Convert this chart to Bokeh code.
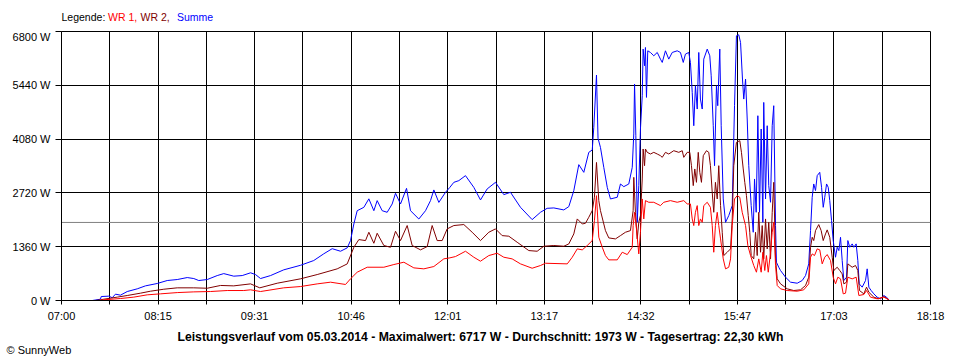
from bokeh.plotting import figure
from bokeh.layouts import column
from bokeh.models import (FixedTicker, CustomJSTickFormatter, PrintfTickFormatter,
                          Span, Range1d)
from bokeh.core.properties import value
from bokeh.embed import file_html
from bokeh.resources import INLINE

# ---------------- data (time in minutes since midnight, power in W) ----------------
day_start = 420.0          # 07:00
day_end = 1098.0           # 18:18
x_tick_labels = ["07:00", "08:15", "09:31", "10:46", "12:01",
                 "13:17", "14:32", "15:47", "17:03", "18:18"]
y_tick_values = [0, 1360, 2720, 4080, 5440, 6800]
avg_w = 1973

legend_parts = ["Legende:", "WR 1,", "WR 2,", "Summe"]
title_text = ("Leistungsverlauf vom 05.03.2014 - Maximalwert: 6717 W - "
              "Durchschnitt: 1973 W - Tagesertrag: 22,30 kWh")
copyright_text = "\u00a9 SunnyWeb"

t_sum = [444.0, 450.4, 451.0, 456.9, 459.6, 462.1, 466.0, 471.3, 479.1, 485.5,
         494.7, 502.5, 510.3, 518.1, 523.2, 527.1, 533.7, 541.5, 546.6, 554.4,
         561.0, 567.5, 571.4, 575.3, 583.1, 593.4, 606.5, 616.8, 624.6, 631.2,
         637.7, 642.9, 645.5, 648.1, 650.7, 655.9, 659.8, 663.7, 666.3, 670.2,
         674.1, 678.0, 680.6, 684.5, 689.2, 692.3, 698.8, 704.0, 707.9, 710.5,
         714.4, 719.6, 723.0, 726.1, 730.0, 735.2, 741.7, 746.9, 752.1, 758.6,
         765.1, 770.3, 778.1, 787.2, 793.7, 798.9, 804.1, 811.9, 815.8, 819.7,
         823.6, 827.5, 831.4, 834.1, 835.3, 837.4, 838.6, 840.5, 843.1, 845.8,
         848.3, 853.6, 856.1, 858.7, 862.6, 865.3, 866.5, 867.1, 868.1, 869.2,
         870.4, 871.7, 873.1, 873.8, 874.9, 875.6, 876.4, 877.4, 879.5, 882.1,
         884.8, 887.3, 888.7, 891.2, 893.8, 896.5, 900.4, 902.9, 905.1, 906.8,
         909.4, 910.7, 912.1, 913.3, 914.6, 916.0, 917.2, 918.5, 919.9, 921.1,
         923.8, 925.8, 926.9, 928.5, 929.5, 931.0, 932.0, 933.6, 934.7, 936.3,
         938.1, 940.6, 943.3, 945.1, 946.6, 948.4, 949.8, 951.3, 952.3, 953.7,
         955.0, 956.2, 958.1, 959.7, 960.7, 962.0, 963.3, 964.6, 965.9, 967.2,
         967.9, 969.3, 970.6, 971.8, 973.2, 974.5, 975.7, 977.1, 977.8, 979.6,
         981.0, 984.9, 988.8, 994.0, 997.9, 1000.5, 1003.0, 1004.4, 1005.7, 1006.9,
         1008.3, 1009.6, 1011.6, 1013.0, 1014.3, 1015.5, 1016.9, 1018.2, 1019.4, 1020.8,
         1022.1, 1023.9, 1025.2, 1026.5, 1027.8, 1029.1, 1030.4, 1032.5, 1033.5, 1035.0,
         1036.9, 1038.2, 1040.0, 1041.3, 1042.4, 1044.7, 1047.3, 1048.6, 1049.9, 1051.7,
         1053.8, 1056.4, 1059.0, 1061.6, 1063.7, 1065.5]
summe = [0, 33, 100, 110, 70, 160, 135, 227, 295, 370,
         430, 505, 530, 580, 555, 505, 530, 630, 680, 615,
         630, 700, 655, 555, 630, 775, 890, 1010, 1180, 1310,
         1245, 1330, 1515, 1935, 2270, 2355, 2570, 2270, 2525, 2270,
         2230, 2440, 2710, 2440, 2835, 2270, 2060, 2270, 2525, 2795,
         2480, 2735, 2860, 2987, 3030, 3156, 2860, 2542, 2820, 2987,
         2676, 2735, 2356, 2045, 2230, 2330, 2340, 2290, 2373, 2777,
         3434, 3240, 3745, 3805, 4376, 5700, 4100, 3870, 3365, 2860,
         2567, 2610, 2945, 2878, 2945, 3365, 4210, 5470, 4166, 1977,
         2904, 4335, 5176, 6355, 5934, 6396, 5134, 6312, 6270, 6186,
         6270, 6102, 6018, 6312, 6102, 6270, 6312, 6270, 6018, 6228,
         6270, 6018, 5260, 4418, 5429, 4840, 6270, 5092, 4840, 6102,
         6355, 6186, 5681, 4418, 3408, 5429, 4924, 6355, 4418, 2567,
         1977, 2146, 2399, 4924, 6692, 6717, 6522, 5598, 5092, 5598,
         4588, 3408, 2399, 1725, 3072, 2230, 4671, 2230, 4335, 1977,
         5007, 2567, 4418, 2904, 2483, 4418, 4924, 1894, 967, 841,
         758, 589, 463, 437, 505, 631, 926, 1767, 2609, 2946,
         2778, 3156, 3240, 2862, 2356, 2609, 2946, 2862, 2525, 2020,
         1515, 1094, 1346, 1262, 1598, 1010, 505, 589, 1515, 1346,
         1431, 1346, 1431, 1010, 421, 337, 505, 800, 337, 252,
         168, 84, 42, 126, 84, 17]

t_wr2 = [446.5, 450.4, 453.0, 463.5, 471.3, 481.6, 489.4, 499.8, 510.3, 523.2,
         533.7, 544.1, 554.4, 567.5, 574.7, 588.3, 606.5, 619.5, 635.1, 642.9,
         648.1, 652.0, 657.2, 659.8, 663.7, 666.3, 671.5, 676.7, 680.6, 684.5,
         689.7, 693.6, 700.1, 705.3, 709.2, 713.1, 717.0, 720.9, 726.1, 733.9,
         740.4, 746.9, 753.4, 758.6, 763.8, 769.0, 775.5, 784.6, 791.1, 796.3,
         804.1, 811.9, 815.8, 819.7, 822.4, 826.3, 828.8, 831.4, 834.1, 835.8,
         837.4, 839.2, 840.5, 844.4, 847.0, 852.2, 856.1, 860.0, 863.9, 866.0,
         866.5, 867.8, 869.2, 870.4, 871.7, 873.1, 873.8, 874.9, 875.6, 877.0,
         879.5, 882.1, 884.8, 887.3, 888.7, 891.2, 893.8, 897.7, 901.6, 904.3,
         905.5, 908.2, 910.2, 911.5, 912.9, 914.1, 915.4, 916.8, 918.0, 919.3,
         920.7, 923.2, 925.0, 926.3, 927.7, 928.9, 930.2, 931.6, 932.8, 934.2,
         935.5, 936.7, 939.4, 942.0, 943.3, 944.5, 946.6, 949.2, 950.5, 951.9,
         953.1, 954.4, 955.8, 957.0, 958.1, 960.1, 961.5, 962.8, 964.0, 965.4,
         966.7, 967.9, 969.3, 970.6, 971.8, 973.2, 974.5, 975.7, 977.1, 978.4,
         981.0, 986.2, 991.3, 996.6, 1000.5, 1003.0, 1004.4, 1005.7, 1006.9, 1008.3,
         1010.8, 1012.7, 1014.3, 1016.1, 1017.4, 1019.4, 1021.3, 1022.6, 1025.2, 1027.2,
         1029.1, 1030.4, 1032.5, 1033.5, 1036.9, 1039.5, 1041.3, 1042.6, 1046.0, 1048.1,
         1049.9, 1053.8, 1057.7, 1061.6, 1065.5]
wr2 = [0, 18, 33, 85, 126, 185, 235, 285, 320, 320,
       310, 380, 370, 420, 320, 437, 548, 656, 800, 925,
       1345, 1540, 1515, 1725, 1447, 1700, 1390, 1345, 1750, 1515,
       1895, 1390, 1280, 1363, 1895, 1515, 1515, 1810, 1895, 1920,
       1725, 1515, 1725, 1810, 1640, 1625, 1473, 1262, 1245, 1372,
       1390, 1372, 1430, 1683, 2062, 1935, 1952, 2104, 2272, 2610,
       3490, 2525, 2272, 1767, 1582, 1557, 1640, 1725, 1767, 2272,
       3113, 2230, 1557, 1977, 2146, 3072, 3830, 3408, 3830, 3745,
       3703, 3745, 3703, 3661, 3619, 3745, 3703, 3787, 3745, 3787,
       3619, 3745, 3745, 3408, 2904, 3325, 2987, 3745, 3240, 2987,
       3661, 3787, 3745, 3408, 2735, 2230, 2987, 2567, 3408, 2399,
       1725, 1136, 1220, 1305, 2062, 3408, 3998, 4040, 3745, 3325,
       2987, 2651, 2146, 1725, 1136, 1052, 1725, 1136, 2230, 1220,
       1894, 1052, 2062, 1305, 1977, 1052, 2230, 2987, 1052, 548,
       421, 295, 252, 270, 379, 589, 1346, 1598, 1515, 1767,
       1919, 1767, 1515, 1683, 1785, 1598, 1094, 758, 841, 758,
       673, 421, 463, 926, 841, 884, 758, 252, 168, 337,
       210, 84, 42, 101, 17]

t_wr1 = [448.9, 453.0, 466.0, 476.4, 486.9, 497.2, 510.3, 523.2, 536.2, 549.3,
         562.2, 567.5, 575.3, 593.4, 606.5, 619.5, 629.9, 641.6, 645.5, 650.7,
         658.5, 671.5, 679.3, 687.1, 694.9, 702.7, 710.5, 718.3, 723.0, 727.4,
         735.2, 741.7, 746.9, 753.4, 759.9, 765.1, 771.6, 778.1, 787.2, 793.7,
         797.6, 814.6, 818.5, 822.4, 826.3, 830.2, 834.1, 835.8, 837.4, 839.2,
         841.9, 844.4, 847.0, 853.6, 857.5, 861.4, 865.3, 866.0, 867.1, 868.6,
         870.4, 871.7, 873.1, 874.3, 875.6, 878.2, 882.1, 887.3, 889.9, 895.1,
         900.4, 905.5, 908.2, 910.7, 912.1, 913.3, 914.6, 916.0, 917.2, 918.5,
         919.9, 921.1, 923.8, 926.3, 927.7, 928.9, 930.2, 931.6, 932.8, 934.2,
         936.3, 938.1, 940.6, 942.0, 943.3, 945.1, 947.2, 949.2, 951.1, 953.7,
         955.5, 957.6, 960.1, 962.2, 964.0, 965.9, 967.2, 968.7, 970.0, 971.4,
         973.2, 974.5, 975.7, 977.1, 978.4, 981.0, 986.2, 994.0, 999.1, 1003.0,
         1004.4, 1005.7, 1007.5, 1009.6, 1011.6, 1013.5, 1015.5, 1017.4, 1020.0, 1022.1,
         1023.9, 1025.7, 1027.8, 1029.9, 1031.7, 1033.5, 1036.9, 1040.0, 1042.1, 1046.0,
         1048.1, 1051.2, 1056.4, 1061.6, 1065.5]
wr1 = [0, 18, 50, 85, 143, 168, 200, 218, 227, 252,
       252, 270, 227, 320, 353, 420, 463, 405, 548, 715,
       841, 841, 909, 968, 825, 800, 859, 1053, 1078, 1111,
       1245, 1094, 993, 1136, 1195, 1094, 1052, 926, 816, 884,
       942, 926, 1094, 1305, 1280, 1390, 1515, 2020, 2650, 1600,
       1346, 1136, 1027, 1027, 1220, 1161, 1346, 1894, 2230, 1810,
       1178, 1725, 2567, 2062, 2525, 2483, 2483, 2399, 2483, 2525,
       2483, 2525, 2441, 2441, 2062, 1894, 2230, 2399, 1894, 2062,
       1977, 2399, 2483, 2356, 1894, 1220, 1894, 2230, 1894, 1557,
       1052, 800, 841, 1052, 1894, 2567, 2651, 2609, 2230, 1894,
       1389, 1136, 884, 715, 1052, 715, 1220, 758, 1136, 715,
       1220, 1725, 1977, 884, 379, 295, 252, 235, 270, 421,
       1094, 1178, 1136, 1305, 1280, 926, 1094, 1161, 1010, 589,
       421, 589, 547, 168, 185, 589, 547, 589, 126, 152,
       252, 84, 42, 84, 17]

assert len(t_sum) == len(summe), (len(t_sum), len(summe))
assert len(t_wr2) == len(wr2), (len(t_wr2), len(wr2))
assert len(t_wr1) == len(wr1), (len(t_wr1), len(wr1))

n_lab = len(x_tick_labels) - 1
step = (day_end - day_start) / n_lab
x_tick_values = [day_start + i * step for i in range(n_lab + 1)]
x_minor_values = [day_start + (i + 0.5) * step for i in range(n_lab)]

# ---------------- styling ----------------
FONT = "Liberation Sans"
C_WR1, C_WR2, C_SUM = "#FF0000", "#800000", "#0000FF"
W = 952

def text_strip(h):
    f = figure(width=W, height=h, output_backend="svg", toolbar_location=None,
               x_range=Range1d(0, W), y_range=Range1d(0, h),
               x_axis_type=None, y_axis_type=None, min_border=0, title=None,
               frame_align=False)
    f.outline_line_color = None
    f.background_fill_color = "white"
    f.border_fill_color = "white"
    return f

# legend strip above the chart
top = text_strip(30)
top.text(x=[61, 107.5, 140, 176.5], y=[13.5] * 4, text=legend_parts,
         text_color=["black", C_WR1, C_WR2, C_SUM], text_font=value(FONT),
         text_font_size="10.5px", text_align="left", text_baseline="middle")

# main chart
p = figure(width=W, height=295, output_backend="svg", toolbar_location=None,
           title=None, x_range=Range1d(day_start, day_end), y_range=Range1d(0, 6800),
           min_border_left=61, min_border_right=22, min_border_top=1, min_border_bottom=25,
           frame_align=False)
p.background_fill_color = "white"
p.border_fill_color = "white"
p.outline_line_color = "black"
p.outline_line_width = 1

xt = FixedTicker(ticks=x_tick_values, minor_ticks=x_minor_values)
p.xaxis.ticker = xt
p.xgrid.ticker = xt
p.xaxis.formatter = CustomJSTickFormatter(args=dict(tv=x_tick_values, tl=x_tick_labels), code="""
const i = tv.findIndex(t => Math.abs(t - tick) < 0.5);
return i >= 0 ? tl[i] : "";
""")
yt = FixedTicker(ticks=y_tick_values)
p.yaxis.ticker = yt
p.ygrid.ticker = yt
p.yaxis.formatter = PrintfTickFormatter(format="%d W")

for ax in (p.xaxis, p.yaxis):
    ax.axis_line_color = "black"
    ax.major_tick_line_color = "black"
    ax.minor_tick_line_color = "black"
    ax.major_tick_in = 0
    ax.minor_tick_in = 0
    ax.major_label_text_font = FONT
    ax.major_label_text_font_size = "11px"
    ax.major_label_text_color = "black"
p.xaxis.major_tick_out = 4
p.xaxis.minor_tick_out = 4
p.xaxis.major_label_standoff = 5
p.yaxis.major_tick_out = 6
p.yaxis.minor_tick_out = 0
p.yaxis.major_label_standoff = 5

p.xgrid.grid_line_color = "black"
p.xgrid.minor_grid_line_color = "black"
p.ygrid.grid_line_color = "black"
p.grid.grid_line_width = 1

p.add_layout(Span(location=avg_w, dimension="width", line_color="#808080",
                  line_width=1, level="underlay"))

p.line(t_sum, summe, line_color=C_SUM, line_width=1)
p.line(t_wr2, wr2, line_color=C_WR2, line_width=1)
p.line(t_wr1, wr1, line_color=C_WR1, line_width=1)

# footer strip: summary title and copyright
bottom = text_strip(33)
bottom.text(x=[480], y=[21.5], text=[title_text], text_color="black",
            text_font=value(FONT), text_font_size="12.2px", text_font_style="bold",
            text_align="center", text_baseline="middle")
bottom.text(x=[6], y=[9], text=[copyright_text], text_color="black",
            text_font=value(FONT), text_font_size="11px",
            text_align="left", text_baseline="middle")

layout = column(top, p, bottom, spacing=0)
open("out.html", "w").write(file_html(layout, INLINE))
